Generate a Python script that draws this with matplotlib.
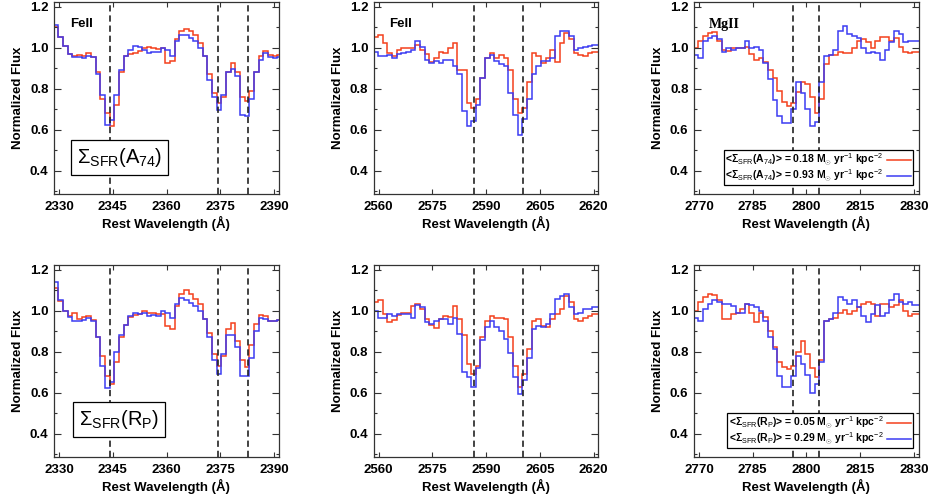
import numpy as np
import matplotlib
matplotlib.use('Agg')
import matplotlib.pyplot as plt
from matplotlib.lines import Line2D
from matplotlib.ticker import MultipleLocator

plt.rcParams['font.family'] = ['Liberation Sans', 'DejaVu Sans']
plt.rcParams['font.weight'] = 'bold'
plt.rcParams['axes.labelweight'] = 'bold'
plt.rcParams['mathtext.fontset'] = 'custom'
plt.rcParams['mathtext.rm'] = 'Liberation Sans:normal'
plt.rcParams['mathtext.it'] = 'Liberation Sans:italic'
plt.rcParams['mathtext.bf'] = 'Liberation Sans:bold'
plt.rcParams['lines.scale_dashes'] = False

# rebinned rest-frame spectra, bin width in Angstrom
BIN = 1.3
edge0_feii_a = 2328.5   # first bin edge, FeII 2344/2374/2382 window
edge0_feii_b = 2558.5   # FeII 2586/2600 window
edge0_mgii = 2768.5     # MgII 2796/2803 window

# line rest wavelengths (dashed)
lines_feii_a = [2344.21, 2374.46, 2382.77]
lines_feii_b = [2586.65, 2600.17]
lines_mgii = [2796.35, 2803.53]

# top row: split by <Sigma_SFR(A_74)>; red = low, blue = high
a74_low_feii_a = [1.10, 1.05, 1.01, 0.97, 0.96, 0.965, 0.96, 0.975, 0.955, 0.88,
                  0.75, 0.68, 0.615, 0.72, 0.88, 0.96, 0.97, 0.975, 0.985, 1.0,
                  1.005, 1.0, 0.995, 1.0, 0.925, 0.935, 1.04, 1.08, 1.09, 1.08,
                  1.06, 1.02, 0.96, 0.87, 0.78, 0.73, 0.76, 0.88, 0.925, 0.88,
                  0.76, 0.74, 0.79, 0.88, 0.96, 0.985, 0.965, 0.96, 0.965]
a74_high_feii_a = [1.11, 1.05, 1.01, 0.97, 0.955, 0.955, 0.95, 0.96, 0.955, 0.87,
                   0.77, 0.62, 0.645, 0.77, 0.89, 0.96, 0.99, 1.01, 1.005, 0.99,
                   0.975, 0.98, 0.98, 1.0, 0.99, 0.96, 1.03, 1.06, 1.06, 1.045,
                   1.03, 1.0, 0.96, 0.84, 0.76, 0.695, 0.77, 0.88, 0.895, 0.86,
                   0.67, 0.665, 0.75, 0.88, 0.94, 0.975, 0.955, 0.95, 0.955]
a74_low_feii_b = [1.05, 1.06, 1.02, 0.975, 0.96, 0.99, 1.0, 1.0, 1.0, 1.015,
                  0.99, 0.97, 0.93, 0.95, 0.98, 0.975, 1.0, 1.02, 0.89, 0.89,
                  0.73, 0.705, 0.75, 0.85, 0.95, 0.975, 0.95, 0.965, 0.95, 0.89,
                  0.75, 0.68, 0.705, 0.83, 0.975, 0.96, 0.925, 0.95, 0.99, 0.93,
                  1.02, 1.07, 1.04, 0.975, 0.965, 0.96, 0.975, 0.98, 0.98]
a74_high_feii_b = [0.98, 0.96, 0.96, 0.965, 0.95, 0.97, 0.975, 0.98, 0.99, 1.03,
                   1.005, 0.94, 0.925, 0.935, 0.925, 0.94, 0.94, 0.91, 0.87, 0.69,
                   0.615, 0.64, 0.72, 0.85, 0.95, 0.965, 0.935, 0.92, 0.91, 0.78,
                   0.67, 0.575, 0.65, 0.75, 0.87, 0.91, 0.935, 0.935, 0.95, 1.055,
                   1.08, 1.083, 1.055, 0.99, 1.0, 1.005, 1.01, 1.015, 1.015]
a74_low_mgii = [1.0, 1.03, 1.055, 1.07, 1.075, 1.03, 0.99, 0.985, 1.0, 1.0,
                1.0, 1.005, 0.97, 0.94, 0.95, 0.93, 0.89, 0.85, 0.79, 0.735,
                0.715, 0.73, 0.785, 0.83, 0.82, 0.76, 0.68, 0.75, 0.92, 0.965,
                0.965, 0.98, 0.975, 0.975, 1.0, 1.03, 1.04, 1.025, 1.0, 1.03,
                1.05, 1.05, 1.03, 1.045, 1.005, 0.98, 0.975, 0.98, 0.98]
a74_high_mgii = [0.965, 0.95, 1.03, 1.045, 1.055, 1.04, 0.98, 1.0, 0.99, 1.0,
                 1.0, 1.03, 1.0, 1.005, 0.99, 0.925, 0.845, 0.745, 0.665, 0.63,
                 0.63, 0.7, 0.83, 0.78, 0.7, 0.615, 0.635, 0.83, 0.96, 0.965,
                 0.99, 1.08, 1.105, 1.065, 1.055, 1.045, 1.0, 0.975, 0.98, 0.975,
                 0.94, 0.99, 1.025, 1.08, 1.065, 1.025, 1.03, 1.03, 1.03]

# bottom row: split by <Sigma_SFR(R_P)>
rp_low_feii_a = [1.11, 1.045, 1.0, 0.975, 0.99, 0.96, 0.97, 0.975, 0.955, 0.87,
                 0.78, 0.68, 0.64, 0.75, 0.87, 0.93, 0.97, 0.98, 0.985, 1.0,
                 0.99, 0.99, 0.985, 0.985, 0.925, 0.91, 1.02, 1.08, 1.098, 1.08,
                 1.055, 1.03, 0.96, 0.89, 0.79, 0.73, 0.78, 0.91, 0.94, 0.85,
                 0.76, 0.725, 0.83, 0.935, 0.98, 0.975, 0.95, 0.95, 0.955]
rp_high_feii_a = [1.14, 1.05, 1.0, 0.97, 0.95, 0.95, 0.955, 0.965, 0.95, 0.87,
                  0.73, 0.62, 0.65, 0.80, 0.88, 0.93, 0.975, 0.99, 0.985, 0.99,
                  0.975, 0.98, 0.975, 1.0, 0.99, 0.965, 1.03, 1.06, 1.05, 1.035,
                  1.02, 1.0, 0.96, 0.87, 0.76, 0.69, 0.79, 0.88, 0.88, 0.82,
                  0.68, 0.68, 0.77, 0.9, 0.965, 0.96, 0.95, 0.95, 0.955]
rp_low_feii_b = [1.04, 1.05, 0.985, 0.945, 0.955, 0.98, 0.99, 0.99, 1.02, 1.03,
                 1.01, 0.96, 0.93, 0.915, 0.96, 0.975, 0.97, 1.02, 0.96, 0.88,
                 0.74, 0.69, 0.73, 0.87, 0.95, 0.975, 0.965, 0.965, 0.96, 0.87,
                 0.73, 0.625, 0.69, 0.81, 0.95, 0.96, 0.925, 0.92, 0.96, 0.985,
                 1.01, 1.07, 1.04, 0.96, 0.95, 0.965, 0.975, 0.985, 0.985]
rp_high_feii_b = [1.0, 0.965, 0.965, 0.985, 0.975, 0.985, 0.985, 0.985, 0.965, 1.025,
                  1.015, 0.945, 0.935, 0.95, 0.96, 0.96, 0.935, 0.965, 0.885, 0.7,
                  0.675, 0.625, 0.72, 0.855, 0.92, 0.95, 0.92, 0.9, 0.86, 0.795,
                  0.675, 0.595, 0.66, 0.77, 0.91, 0.925, 0.92, 0.935, 0.985, 1.055,
                  1.07, 1.08, 1.015, 0.985, 0.99, 1.01, 1.01, 1.015, 1.015]
rp_low_mgii = [1.0, 1.04, 1.065, 1.08, 1.075, 1.05, 0.96, 0.96, 0.985, 0.99,
               1.01, 1.03, 0.99, 0.945, 0.99, 0.97, 0.9, 0.82, 0.75, 0.725,
               0.715, 0.73, 0.8, 0.85, 0.79, 0.72, 0.675, 0.76, 0.95, 0.96,
               0.965, 0.99, 1.005, 0.985, 1.0, 1.015, 1.03, 1.04, 1.03, 0.975,
               1.03, 1.03, 1.015, 1.025, 1.05, 1.0, 0.975, 0.985, 0.985]
rp_high_mgii = [0.965, 0.95, 1.01, 1.03, 1.05, 1.04, 1.03, 1.03, 1.02, 0.99,
                0.99, 1.03, 1.025, 1.015, 1.0, 0.95, 0.87, 0.81, 0.68, 0.625,
                0.625, 0.68, 0.78, 0.74, 0.685, 0.6, 0.64, 0.75, 0.95, 0.96,
                0.99, 1.065, 1.05, 1.03, 1.05, 1.015, 0.975, 0.945, 0.985, 1.025,
                0.975, 0.99, 1.05, 1.08, 1.04, 1.03, 1.04, 1.025, 1.025]

xticks_feii_a = [2330, 2345, 2360, 2375, 2390]
xticks_feii_b = [2560, 2575, 2590, 2605, 2620]
xticks_mgii = [2770, 2785, 2800, 2815, 2830]

legend_a74 = [r'<Σ$_{\rm SFR}$(A$_{74}$)> = 0.18 M$_{\odot}$ yr$^{-1}$ kpc$^{-2}$',
              r'<Σ$_{\rm SFR}$(A$_{74}$)> = 0.93 M$_{\odot}$ yr$^{-1}$ kpc$^{-2}$']
legend_rp = [r'<Σ$_{\rm SFR}$(R$_{\rm P}$)> = 0.05 M$_{\odot}$ yr$^{-1}$ kpc$^{-2}$',
             r'<Σ$_{\rm SFR}$(R$_{\rm P}$)> = 0.29 M$_{\odot}$ yr$^{-1}$ kpc$^{-2}$']

RED = '#f4401c'
BLUE = '#3c3cf2'

fig = plt.figure(figsize=(9.32, 4.99), dpi=100)

lefts = [0.058, 0.401, 0.7446]
bottoms = [0.611, 0.084]
W, H = 0.241, 0.384

panels = [
    # (row, col, edge0, low, high, lines, xticks, xlim, label)
    (0, 0, edge0_feii_a, a74_low_feii_a, a74_high_feii_a, lines_feii_a, xticks_feii_a, (2328.6, 2391.3), 'FeII'),
    (0, 1, edge0_feii_b, a74_low_feii_b, a74_high_feii_b, lines_feii_b, xticks_feii_b, (2558.6, 2621.3), 'FeII'),
    (0, 2, edge0_mgii, a74_low_mgii, a74_high_mgii, lines_mgii, xticks_mgii, (2768.6, 2831.3), 'MgII'),
    (1, 0, edge0_feii_a, rp_low_feii_a, rp_high_feii_a, lines_feii_a, xticks_feii_a, (2328.6, 2391.3), None),
    (1, 1, edge0_feii_b, rp_low_feii_b, rp_high_feii_b, lines_feii_b, xticks_feii_b, (2558.6, 2621.3), None),
    (1, 2, edge0_mgii, rp_low_mgii, rp_high_mgii, lines_mgii, xticks_mgii, (2768.6, 2831.3), None),
]

for row, col, e0, low, high, lw_list, xt, xl, lab in panels:
    ax = fig.add_axes([lefts[col], bottoms[row], W, H])
    edges = e0 + BIN * np.arange(len(low) + 1)
    ax.stairs(low, edges, baseline=None, color=RED, lw=1.1)
    ax.stairs(high, edges, baseline=None, color=BLUE, lw=1.1)
    for w in lw_list:
        ax.axvline(w, color='#222222', lw=1.2, ls=(0, (4.5, 2.8)))

    ax.set_xlim(*xl)
    ax.set_ylim(0.285, 1.22)
    ax.set_xticks(xt)
    ax.set_yticks([0.4, 0.6, 0.8, 1.0, 1.2])
    ax.yaxis.set_minor_locator(MultipleLocator(0.1))
    ax.tick_params(which='both', direction='in', top=True, right=True,
                   labelsize=9.5, width=0.8, color='#333333')
    ax.tick_params(axis='x', which='major', length=3.5, pad=5)
    ax.tick_params(axis='y', which='major', length=5, pad=4)
    ax.tick_params(axis='y', which='minor', length=2.5)
    for t in ax.get_xticklabels() + ax.get_yticklabels():
        t.set_fontweight('bold')
    for s in ax.spines.values():
        s.set_linewidth(0.9)
        s.set_color('#333333')
    ax.set_xlabel('Rest Wavelength (Å)', fontsize=9.5, fontweight='bold', labelpad=2)
    ax.set_ylabel('Normalized Flux', fontsize=9.5, fontweight='bold', labelpad=4)

    if lab == 'FeII':
        ax.text(0.07, 0.89, lab, transform=ax.transAxes, fontsize=9.5,
                fontweight='bold', va='center')
    elif lab == 'MgII':
        ax.text(0.067, 0.885, lab, transform=ax.transAxes, fontsize=10,
                fontweight='bold', family='Liberation Serif', va='center')

    if col == 0:
        txt = r'Σ$_{\rm SFR}$(A$_{74}$)' if row == 0 else r'Σ$_{\rm SFR}$(R$_{\rm P}$)'
        ax.text(0.29, 0.19 if row == 0 else 0.198, txt, transform=ax.transAxes,
                fontsize=14.5, fontweight='normal', ha='center', va='center',
                bbox=dict(boxstyle='square,pad=0.3', fc='white', ec='black', lw=0.9))

    if col == 2:
        labels = legend_a74 if row == 0 else legend_rp
        handles = [Line2D([], [], color=RED, lw=1.1), Line2D([], [], color=BLUE, lw=1.1)]
        leg = ax.legend(handles, labels, loc='lower right', bbox_to_anchor=(0.975, 0.045),
                        markerfirst=False, frameon=True, fancybox=False,
                        prop=dict(size=7.5, weight='bold'),
                        edgecolor='black', framealpha=1, borderpad=0.15, labelspacing=0.0,
                        handlelength=2.3, handletextpad=0.4, borderaxespad=0)
        leg.get_frame().set_linewidth(0.9)

fig.savefig('out.png', dpi=100)
